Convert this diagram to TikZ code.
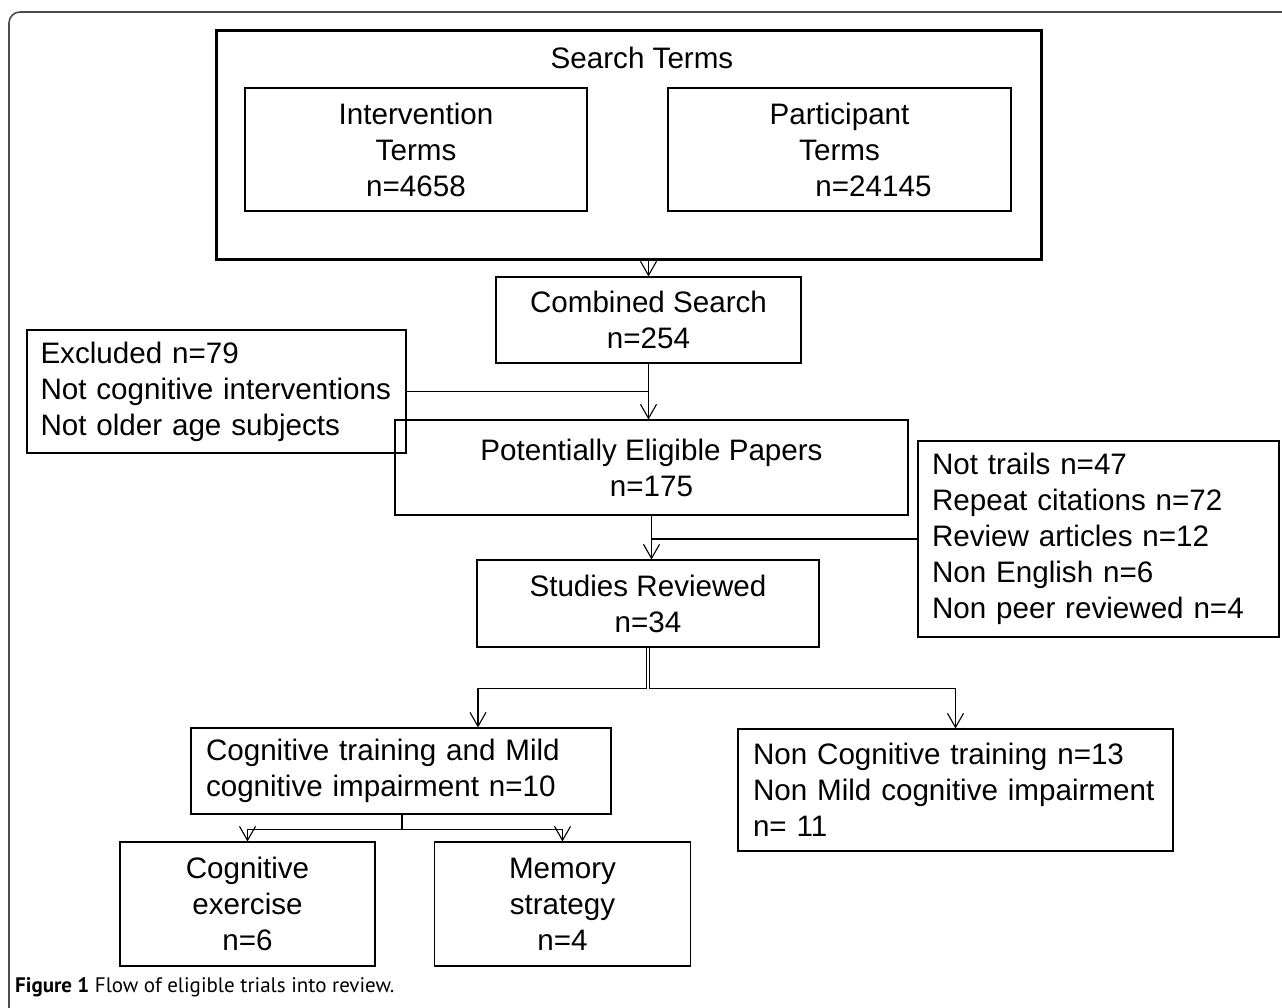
\documentclass[tikz,border=0pt]{standalone}
\usepackage{fontspec}
\setmainfont{Liberation Sans}
\newfontfamily\capfont{PT Sans}
\usetikzlibrary{arrows.meta,calc}
\begin{document}
\begin{tikzpicture}[x=1pt,y=-1pt,
  box/.style={draw, line width=1.1pt, inner sep=0pt, font=\fontsize{29.6}{36}\selectfont, align=center},
  lbox/.style={box, align=left, inner xsep=15pt, execute at begin node={\hyphenpenalty=10000 \exhyphenpenalty=10000 }},
  arr/.style={-{Straight Barb[length=14pt,width=16pt,line width=1.1pt]}, line width=1.1pt},
  conn/.style={line width=1.1pt}]
\useasboundingbox (0,0) rectangle (1282,1007);
\begin{scope}
\clip (0,0) rectangle (1282,1007);
\draw[black!70, line width=1.6pt, rounded corners=11pt] (1300,12) -- (9,12) -- (9,1030);
\end{scope}

% search terms group
\node[box, line width=3pt, minimum width=825pt, minimum height=229pt] (search) at (628.5,144.5) {};
\node[inner sep=0pt, font=\fontsize{29.6}{36}\selectfont] (searchlbl) at (642,58) {Search Terms};
\node[box, minimum width=342pt, minimum height=123pt] (interv) at (416,149.5) {Intervention\\Terms\\n=4658};
\node[box, minimum width=343pt, minimum height=123pt] (partic) at (839.5,149.5) {Participant\\Terms\\\hspace*{68pt}n=24145};

\node[box, minimum width=305pt, minimum height=86pt] (comb) at (648.5,320) {Combined Search\\n=254};
\node[lbox, inner xsep=13.5pt, text width=352pt, minimum height=123pt] (excl) at (216.5,391.5) {Excluded n=79\\Not cognitive interventions\\Not older age subjects};
\node[box, minimum width=513pt, minimum height=95pt] (pot) at (651.5,467.5) {Potentially Eligible Papers\\n=175};
\node[lbox, inner xsep=14pt, text width=333pt, minimum height=196pt] (nottr) at (1098.5,539) {Not trails n=47\\Repeat citations n=72\\Review articles n=12\\Non English n=6\\Non peer reviewed n=4};
\node[box, minimum width=342pt, minimum height=87pt] (stud) at (648,603.5) {Studies Reviewed\\n=34};
\node[lbox, text width=390pt, minimum height=86pt] (cogtr) at (401,771) {Cognitive training and Mild\\cognitive impairment n=10};
\node[lbox, text width=405pt, minimum height=122pt] (noncog) at (955.5,790) {Non Cognitive training n=13\\Non Mild cognitive impairment\\n= 11};
\node[box, minimum width=255pt, minimum height=124pt] (cogex) at (247.5,904) {Cognitive\\exercise\\n=6};
\node[box, minimum width=256pt, minimum height=124pt] (mem) at (562.5,904) {Memory\\strategy\\n=4};

% connectors
\draw[arr] (comb.north |- search.south) -- (comb.north);
\draw[arr] (comb.south) -- (comb.south |- pot.north);
\draw[conn] (excl.east) -- (comb.south |- excl.east);
\draw[arr] (pot.south) -- (pot.south |- stud.north);
\draw[conn] (nottr.west) -- (pot.south |- nottr.west);
\draw[arr] ([xshift=-1.5pt]stud.south) -- ++(0,41) -| ([xshift=77pt]cogtr.north);
\draw[arr] ([xshift=1.5pt]stud.south) -- ++(0,41) -| (noncog.north);
\draw[conn] ([xshift=1pt]cogtr.south) -- ++(0,15) coordinate (j3);
\draw[arr] (j3) -| (cogex.north);
\draw[arr] (j3) -| (mem.north);

% caption
\node[anchor=base west, inner sep=0pt, font=\capfont\fontsize{21}{25}\selectfont] (cap) at (15,992) {\textbf{Figure 1} Flow of eligible trials into review.};
\end{tikzpicture}
\end{document}
